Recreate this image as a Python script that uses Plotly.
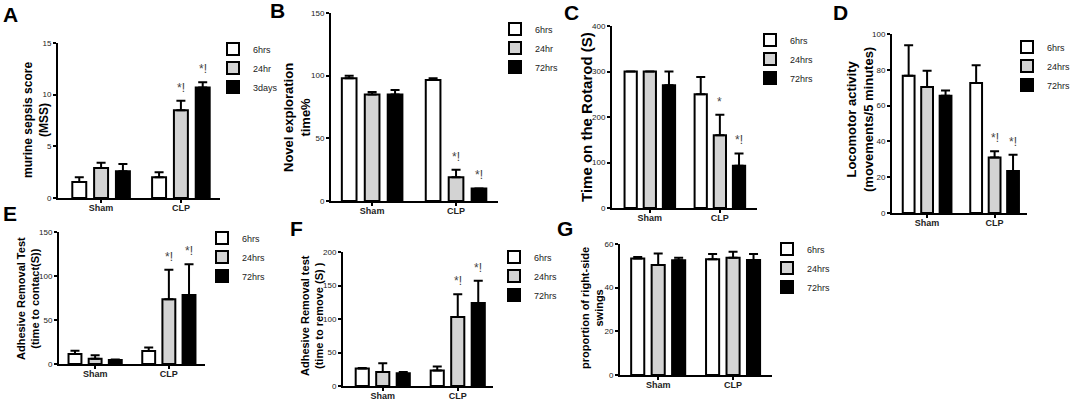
import plotly.graph_objects as go

W, H = 1072, 401
groups = ["Sham", "CLP"]
fill_colors = ["white", "#d3d3d3", "black"]

# ---- A: murine sepsis score ----
mss_labels = ["6hrs", "24hr", "3days"]
mss_mean = [[1.55, 2.0], [2.9, 8.5], [2.6, 10.7]]
mss_sem = [[0.45, 0.5], [0.5, 0.9], [0.7, 0.5]]
mss_sig = [["", ""], ["", "*!"], ["", "*!"]]
mss_ticks = [0, 5, 10, 15]

# ---- B: novel exploration ----
nor_labels = ["6hrs", "24hr", "72hrs"]
nor_mean = [[98, 96.5], [85, 19], [85, 10]]
nor_sem = [[2, 1.5], [2, 6], [3.5, 0]]
nor_sig = [["", ""], ["", "*!"], ["", "*!"]]
nor_ticks = [0, 50, 100, 150]

# ---- C: rotarod ----
rot_labels = ["6hrs", "24hrs", "72hrs"]
rot_mean = [[300, 250], [300, 160], [270, 93]]
rot_sem = [[0, 38], [0, 45], [30, 27]]
rot_sig = [["", ""], ["", "*"], ["", "*!"]]
rot_ticks = [0, 100, 200, 300, 400]

# ---- D: locomotor activity ----
loc_labels = ["6hrs", "24hrs", "72hrs"]
loc_mean = [[76.7, 72.6], [70.4, 31], [65.5, 23.5]]
loc_sem = [[17, 10], [9, 3.5], [3, 9]]
loc_sig = [["", ""], ["", "*!"], ["", "*!"]]
loc_ticks = [0, 20, 40, 60, 80, 100]

# ---- E: adhesive removal (contact) ----
con_labels = ["6hrs", "24hrs", "72hrs"]
con_mean = [[11.4, 14.8], [6, 73.5], [4.5, 78.4]]
con_sem = [[3.6, 4], [4, 33.5], [0.5, 35]]
con_sig = [["", ""], ["", "*!"], ["", "*!"]]
con_ticks = [0, 50, 100, 150]

# ---- F: adhesive removal (remove) ----
rem_labels = ["6hrs", "24hrs", "72hrs"]
rem_mean = [[26, 23], [21, 103], [19, 124]]
rem_sem = [[1, 6], [13, 34], [2, 33]]
rem_sig = [["", ""], ["", "*!"], ["", "*!"]]
rem_ticks = [0, 50, 100, 150, 200]

# ---- G: right-side swings ----
swg_labels = ["6hrs", "24hrs", "72hrs"]
swg_mean = [[53.4, 53], [50.4, 53.7], [52.5, 52.7]]
swg_sem = [[0.6, 2.4], [5.3, 2.8], [1.2, 2.7]]
swg_sig = [["", ""], ["", ""], ["", ""]]
swg_ticks = [0, 20, 40, 60]

BARGAP = 0.18
BARGROUPGAP = 0.36

# layout geometry in pixels: plot box (x0, x1, y_bottom, y_top), x range,
# panel letter, y-title, legend placement (box left, middle item y, gap)
panels = [
    dict(data=(mss_labels, mss_mean, mss_sem, mss_sig, mss_ticks),
         box=(58, 220, 198, 43), xr=(-0.54, 1.49), letter=("A", 10, 14),
         title=("murine sepsis score<br>(MSS)", 36, 120, 12),
         leg=(226, 68, 0)),
    dict(data=(nor_labels, nor_mean, nor_sem, nor_sig, nor_ticks),
         box=(331, 498, 201, 13), xr=(-0.49, 1.50), letter=("B", 277, 11),
         title=("Novel exploration<br>time%", 297, 118, 13),
         leg=(508, 48, 4)),
    dict(data=(rot_labels, rot_mean, rot_sem, rot_sig, rot_ticks),
         box=(612, 757, 208, 26), xr=(-0.54, 1.53), letter=("C", 571, 13),
         title=("Time on the Rotarod (S)", 587, 117, 15),
         leg=(763, 59, 2)),
    dict(data=(loc_labels, loc_mean, loc_sem, loc_sig, loc_ticks),
         box=(892, 1027, 213, 34), xr=(-0.52, 1.48), letter=("D", 840, 12),
         title=("Locomotor activity<br>(movements/5 minutes)", 860, 120, 13),
         leg=(1020, 66, 0)),
    dict(data=(con_labels, con_mean, con_sem, con_sig, con_ticks),
         box=(59, 205, 364, 232), xr=(-0.49, 1.49), letter=("E", 10, 213),
         title=("Adhesive Removal Test<br>(time to contact(S))", 28, 299, 11),
         leg=(215, 257, 0)),
    dict(data=(rem_labels, rem_mean, rem_sem, rem_sig, rem_ticks),
         box=(343, 493, 386, 252), xr=(-0.53, 1.47), letter=("F", 296, 228),
         title=("Adhesive Removal test<br>(time to remove (S) )", 312, 316, 11),
         leg=(507, 276, 0)),
    dict(data=(swg_labels, swg_mean, swg_sem, swg_sig, swg_ticks),
         box=(620, 772, 375, 244), xr=(-0.51, 1.52), letter=("G", 565, 228),
         title=("proportion of right-side<br>swings", 592, 308, 11),
         leg=(780, 268, 0)),
]

NARROW = "Liberation Sans Narrow, Arial Narrow, Liberation Sans, sans-serif"
TICK_FONT = dict(family=NARROW, size=8, color="#222")
XTICK_FONT = dict(family=NARROW, size=9, color="#222", weight=700)
LEG_FONT = dict(family=NARROW, size=9, color="#222")
LEG_SYMBOL_OFFSET = 13  # px from legend left edge to the swatch's left edge

fig = go.Figure()
annotations = []
layout = dict(
    width=W, height=H, margin=dict(l=0, r=0, t=0, b=0, pad=0, autoexpand=False),
    paper_bgcolor="white", plot_bgcolor="white",
    barmode="group", bargap=BARGAP, bargroupgap=BARGROUPGAP,
    showlegend=True,
)

for i, p in enumerate(panels, start=1):
    labels, means, sems, sigs, ticks = p["data"]
    x0, x1, yb, yt = p["box"]
    r0, r1 = p["xr"]
    sfx = "" if i == 1 else str(i)
    legname = "legend" + sfx
    for j, lab in enumerate(labels):
        fig.add_trace(go.Bar(
            x=groups, y=means[j], name=lab,
            xaxis="x" + sfx, yaxis="y" + sfx,
            legend=legname, legendgroup=f"p{i}s{j}",
            marker=dict(color=fill_colors[j], line=dict(color="black", width=2)),
            error_y=dict(type="data", array=sems[j], arrayminus=[0] * len(groups),
                         symmetric=False, color="black", thickness=2, width=4.5),
            hoverinfo="skip",
        ))
    layout["xaxis" + sfx] = dict(
        domain=[x0 / W, x1 / W], range=[r0, r1], anchor="y" + sfx,
        showline=True, linecolor="black", linewidth=2, ticks="outside",
        ticklen=3, tickwidth=1.5, tickcolor="black", tickfont=XTICK_FONT,
        ticklabelstandoff=-3,
        showgrid=False, zeroline=False, fixedrange=True,
    )
    layout["yaxis" + sfx] = dict(
        domain=[1 - yb / H, 1 - yt / H], range=[0, ticks[-1]], anchor="x" + sfx,
        tickvals=ticks, showline=True, linecolor="black", linewidth=2,
        ticks="outside", ticklen=3, tickwidth=1.5, tickcolor="black",
        tickfont=TICK_FONT, showgrid=False, zeroline=False, fixedrange=True,
    )
    lx, ly, gap = p["leg"]
    layout[legname] = dict(
        x=(lx - LEG_SYMBOL_OFFSET) / W, y=1 - ly / H, xanchor="left", yanchor="middle",
        font=LEG_FONT, bgcolor="rgba(0,0,0,0)", borderwidth=0,
        tracegroupgap=gap, traceorder="normal", itemwidth=30,
    )
    # significance marks above error bars
    px_per_unit = (x1 - x0) / (r1 - r0)
    slot_px = (1 - BARGAP) / len(labels) * px_per_unit
    for j in range(len(labels)):
        for g, grp in enumerate(groups):
            if sigs[j][g]:
                annotations.append(dict(
                    x=grp, y=means[j][g] + sems[j][g], xref="x" + sfx, yref="y" + sfx,
                    text=sigs[j][g], showarrow=False, xshift=(j - 1) * slot_px,
                    yshift=13, yanchor="middle",
                    font=dict(family=NARROW, size=12, color="#444"),
                ))
    # panel letter
    letter, lxp, lyp = p["letter"]
    annotations.append(dict(
        x=lxp / W, y=1 - lyp / H, xref="paper", yref="paper", text=f"<b>{letter}</b>",
        showarrow=False, xanchor="center", yanchor="middle",
        font=dict(family="Liberation Sans, Arial, sans-serif", size=21, color="black"),
    ))
    # y-axis title
    ttxt, tx, ty, tsize = p["title"]
    annotations.append(dict(
        x=tx / W, y=1 - ty / H, xref="paper", yref="paper", text=f"<b>{ttxt}</b>",
        showarrow=False, xanchor="center", yanchor="middle", textangle=-90,
        font=dict(family="Liberation Sans, Arial, sans-serif", size=tsize, color="black"),
    ))

layout["annotations"] = annotations
fig.update_layout(**layout)
fig.write_html(
    "out.html",
    config={"displayModeBar": False},
    post_script="document.body.style.margin='0px';"
                "document.documentElement.style.overflow='hidden';",
)
